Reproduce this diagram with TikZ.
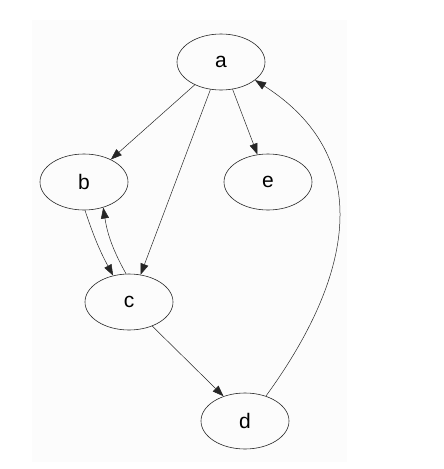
\documentclass[tikz,border=0pt]{standalone}
\usepackage{fontspec}
\setmainfont{Liberation Sans}
\usetikzlibrary{shapes.geometric,arrows.meta}
\begin{document}
\begin{tikzpicture}[x=1pt,y=-1pt,
  vert/.style={draw=black!85,ellipse,minimum width=88pt,minimum height=56pt,inner sep=0pt,line width=0.6pt,font=\fontsize{21}{21}\selectfont},
  edge/.style={draw=black!85,line width=0.5pt,-{Triangle[length=11pt,width=8pt]}}]
\useasboundingbox (0,0) rectangle (444,469);
\fill[white!99!black] (32,20) rectangle (347,462);
\node[vert] (a) at (221,62) {a};
\node[vert] (b) at (84,182) {b};
\node[vert] (e) at (268,182) {e};
\node[vert] (c) at (129,302) {c};
\node[vert] (d) at (245,421) {d};
\draw[edge] (a.-139) -- (b.40);
\draw[edge] (a.-111) -- (c.67);
\draw[edge] (a.-67) -- (e.111);
\draw[edge] (b.-88) to[bend right=5] (c.121);
\draw[edge] (c.96) to[bend left=10] (b.-53);
\draw[edge] (c.-46) -- (d.131);
\draw[edge] (d.50) .. controls (365,260) and (365,150) .. (a.-28);
\end{tikzpicture}
\end{document}
